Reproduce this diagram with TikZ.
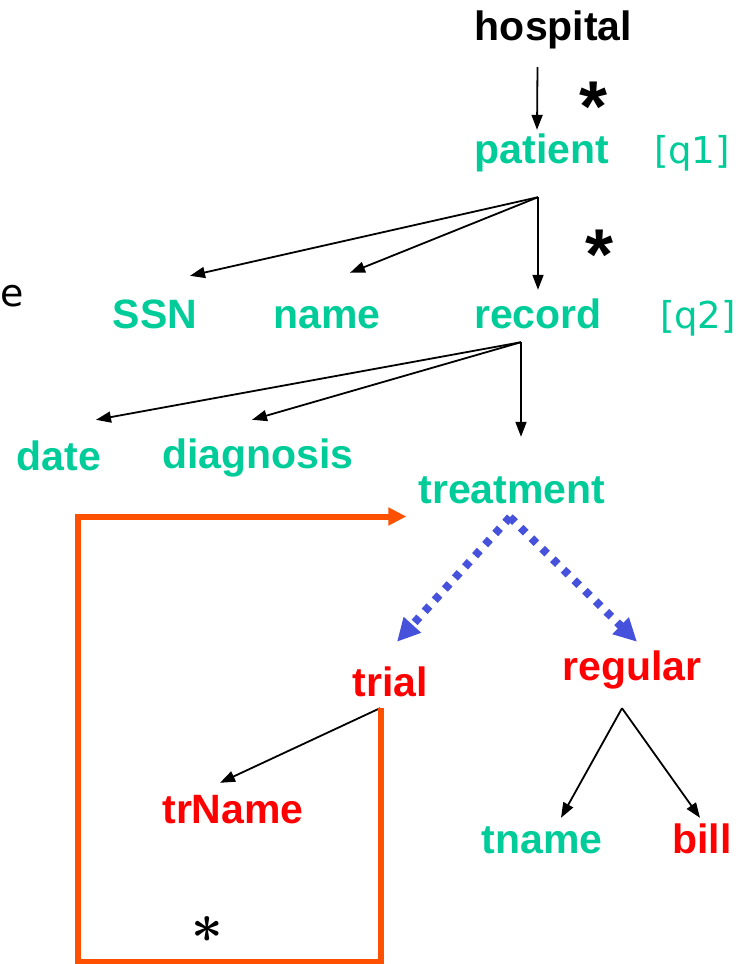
\documentclass[tikz,border=0pt]{standalone}
\usepackage{fontspec}
\setmainfont{Liberation Sans}
\newfontfamily\notefont{DejaVu Sans}
\usetikzlibrary{arrows.meta}
\definecolor{tagGreen}{RGB}{0, 204, 153}
\definecolor{tagRed}{RGB}{255, 0, 0}
\definecolor{loopOrange}{RGB}{255, 80, 0}
\definecolor{typeBlue}{RGB}{70, 82, 220}

\begin{document}
\begin{tikzpicture}[x=1pt,y=-1pt,
  lbl/.style={font=\bfseries\fontsize{41}{41}\selectfont, inner sep=0pt,
    text height=30pt, text depth=9pt, anchor=base},
  elem/.style={lbl, text=tagGreen},
  choice/.style={lbl, text=tagRed},
  qtag/.style={font=\notefont\fontsize{37}{37}\selectfont, text=tagGreen, inner sep=0pt},
  starmark/.style={font=\bfseries\fontsize{36}{36}\selectfont, inner sep=0pt, scale=2},
  edge/.style={black, line width=1.8pt, -{Triangle[length=15pt,width=11pt]}},
  union/.style={typeBlue, line width=8pt, dash pattern=on 7pt off 8pt,
    -{Triangle[length=23pt,width=22pt]}},
  loopline/.style={loopOrange, line width=6pt, -{Triangle[length=18pt,width=17pt]}}]
  \useasboundingbox (0,0) rectangle (747,964);

  % element labels
  \node[lbl] (hospital) at (553.5,40) {hospital};
  \node[elem] (patient) at (542,163) {patient};
  \node[elem] (SSN) at (155,328) {SSN};
  \node[elem] (name) at (327,328) {name};
  \node[elem] (record) at (538,328) {record};
  \node[elem] (date) at (59,470) {date};
  \node[elem] (diagnosis) at (258,468) {diagnosis};
  \node[elem] (treatment) at (512,503) {treatment};
  \node[choice] (trial) at (390,696) {trial};
  \node[choice] (regular) at (632,680) {regular};
  \node[choice] (trName) at (233,823) {trName};
  \node[elem] (tname) at (542,853) {tname};
  \node[choice] (bill) at (702,853) {bill};

  % stars and query tags
  \node[starmark] (star1) at (594,107) {*};
  \node[starmark] (star2) at (600,255) {*};
  \node[font=\boldmath, inner sep=0pt, scale=5.5] (star3) at (207,930) {$\ast$};
  \node[qtag] (q1) at (692,153) {[q1]};
  \node[qtag] (q2) at (698,318) {[q2]};
  \node[font=\notefont\fontsize{38}{38}\selectfont, inner sep=0pt] (cut) at (12,296) {e};

  % tree edges
  \draw[edge] ([xshift=-16pt,yshift=-18pt]hospital.south) -- ([xshift=-5pt,yshift=3pt]patient.north);
  \foreach \kid/\dx/\dy in {SSN/35/22, name/23/25, record/0/8}
    \draw[edge] ([xshift=-4pt,yshift=-25pt]patient.south) -- ([xshift=\dx pt,yshift=\dy pt]\kid.north);
  \foreach \kid/\dx/\dy in {date/37/20, diagnosis/-6/18, treatment/9/36}
    \draw[edge] ([xshift=-17pt,yshift=-5pt]record.south) -- ([xshift=\dx pt,yshift=\dy pt]\kid.north);
  \draw[edge] ([xshift=-10pt,yshift=-3pt]trial.south) -- ([xshift=-13pt,yshift=10pt]trName.north);
  \draw[edge] ([xshift=-10pt,yshift=-19pt]regular.south) -- ([xshift=19pt,yshift=5pt]tname.north);
  \draw[edge] ([xshift=-10pt,yshift=-19pt]regular.south) -- ([xshift=-2pt,yshift=5pt]bill.north);

  % choice of treatment
  \draw[union] ([xshift=-2pt,yshift=-5pt]treatment.south) -- ([xshift=7pt,yshift=24pt]trial.north);
  \draw[union] ([xshift=-2pt,yshift=-5pt]treatment.south) -- ([xshift=5pt,yshift=8pt]regular.north);

  % recursion back to treatment
  \draw[loopline] ([xshift=-9pt,yshift=-3pt]trial.south) |- (78,962) |- ([xshift=-12pt,yshift=-24pt]treatment.west);
\end{tikzpicture}
\end{document}
